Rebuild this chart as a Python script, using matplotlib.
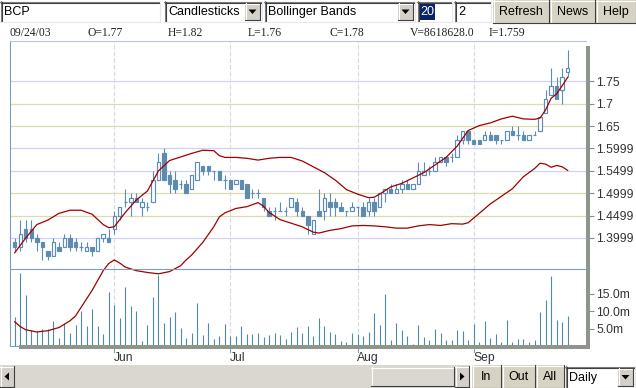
import matplotlib
matplotlib.use('Agg')
import matplotlib.pyplot as plt
from matplotlib.patches import Rectangle, Polygon
from matplotlib.transforms import blended_transform_factory
import numpy as np

plt.rcParams['font.family'] = ['Liberation Sans', 'DejaVu Sans']

# ---------------- data ----------------
opens = [1.39, 1.38, 1.42, 1.42, 1.40, 1.39, 1.37, 1.36, 1.38, 1.38,
         1.40, 1.39, 1.38, 1.37, 1.38, 1.37, 1.40, 1.40, 1.42, 1.45,
         1.48, 1.48, 1.49, 1.47, 1.47, 1.48, 1.53, 1.59, 1.54, 1.53,
         1.52, 1.52, 1.51, 1.53, 1.56, 1.56, 1.55, 1.55, 1.53, 1.53,
         1.52, 1.53, 1.52, 1.50, 1.50, 1.49, 1.46, 1.46, 1.46, 1.46,
         1.47, 1.48, 1.46, 1.45, 1.41, 1.46, 1.46, 1.48, 1.48, 1.47,
         1.46, 1.46, 1.47, 1.47, 1.46, 1.48, 1.47, 1.50, 1.51, 1.50,
         1.51, 1.52, 1.51, 1.52, 1.54, 1.55, 1.55, 1.57, 1.58, 1.58,
         1.58, 1.62, 1.64, 1.62, 1.62, 1.62, 1.63, 1.63, 1.62, 1.62,
         1.64, 1.63, 1.63, 1.62, 1.63, 1.64, 1.68, 1.72, 1.74, 1.73,
         1.77]
highs = [1.40, 1.44, 1.44, 1.44, 1.41, 1.39, 1.37, 1.40, 1.39, 1.41,
         1.41, 1.40, 1.39, 1.39, 1.38, 1.40, 1.41, 1.42, 1.46, 1.47,
         1.51, 1.50, 1.50, 1.49, 1.48, 1.55, 1.59, 1.60, 1.55, 1.55,
         1.53, 1.53, 1.54, 1.57, 1.56, 1.56, 1.55, 1.55, 1.54, 1.53,
         1.53, 1.53, 1.52, 1.51, 1.51, 1.49, 1.47, 1.47, 1.48, 1.47,
         1.49, 1.49, 1.47, 1.45, 1.44, 1.51, 1.50, 1.50, 1.49, 1.48,
         1.46, 1.48, 1.47, 1.48, 1.49, 1.49, 1.50, 1.51, 1.52, 1.52,
         1.53, 1.53, 1.52, 1.57, 1.57, 1.56, 1.58, 1.58, 1.58, 1.59,
         1.63, 1.64, 1.64, 1.62, 1.62, 1.64, 1.64, 1.63, 1.62, 1.64,
         1.65, 1.65, 1.64, 1.63, 1.64, 1.67, 1.73, 1.78, 1.76, 1.78,
         1.82]
lows = [1.37, 1.37, 1.39, 1.39, 1.37, 1.35, 1.35, 1.36, 1.37, 1.38,
        1.37, 1.37, 1.37, 1.37, 1.36, 1.37, 1.39, 1.39, 1.41, 1.44,
        1.47, 1.45, 1.48, 1.45, 1.46, 1.48, 1.53, 1.53, 1.50, 1.50,
        1.51, 1.50, 1.51, 1.53, 1.54, 1.54, 1.53, 1.53, 1.51, 1.51,
        1.52, 1.51, 1.49, 1.49, 1.49, 1.46, 1.45, 1.44, 1.46, 1.45,
        1.47, 1.45, 1.45, 1.41, 1.41, 1.45, 1.44, 1.45, 1.45, 1.46,
        1.45, 1.46, 1.45, 1.45, 1.45, 1.45, 1.47, 1.48, 1.50, 1.50,
        1.50, 1.51, 1.51, 1.52, 1.54, 1.54, 1.55, 1.57, 1.56, 1.57,
        1.58, 1.61, 1.61, 1.61, 1.61, 1.62, 1.62, 1.61, 1.61, 1.62,
        1.63, 1.62, 1.62, 1.62, 1.63, 1.64, 1.68, 1.72, 1.71, 1.70,
        1.76]
closes = [1.38, 1.41, 1.40, 1.40, 1.39, 1.38, 1.36, 1.39, 1.37, 1.40,
          1.38, 1.38, 1.38, 1.38, 1.37, 1.40, 1.41, 1.39, 1.45, 1.47,
          1.48, 1.49, 1.48, 1.48, 1.47, 1.53, 1.57, 1.53, 1.52, 1.51,
          1.52, 1.50, 1.54, 1.57, 1.55, 1.55, 1.55, 1.53, 1.53, 1.51,
          1.53, 1.51, 1.49, 1.50, 1.50, 1.47, 1.45, 1.46, 1.46, 1.46,
          1.49, 1.46, 1.45, 1.43, 1.44, 1.45, 1.49, 1.47, 1.47, 1.46,
          1.46, 1.47, 1.47, 1.45, 1.48, 1.46, 1.50, 1.51, 1.50, 1.51,
          1.52, 1.51, 1.52, 1.55, 1.55, 1.55, 1.57, 1.58, 1.57, 1.58,
          1.62, 1.64, 1.62, 1.61, 1.61, 1.63, 1.62, 1.62, 1.62, 1.64,
          1.63, 1.63, 1.62, 1.63, 1.63, 1.67, 1.71, 1.74, 1.71, 1.76,
          1.78]
volume_m = [8.4, 20.9, 14.7, 4.6, 4.3, 5.0, 4.8, 7.2, 2.2, 6.6,
            3.7, 6.0, 10.2, 5.7, 10.7, 5.7, 3.4, 15.6, 11.8, 8.1,
            17.1, 11.5, 10.1, 1.4, 6.0, 14.2, 20.6, 6.6, 8.3, 9.8,
            5.1, 2.2, 3.7, 12.4, 3.1, 6.6, 1.9, 2.8, 6.3, 2.8,
            2.8, 5.7, 3.4, 3.4, 3.7, 2.5, 3.1, 3.7, 3.1, 1.9,
            4.0, 5.4, 3.7, 5.7, 2.8, 8.1, 5.7, 4.0, 3.4, 1.4,
            1.1, 3.7, 3.4, 2.8, 4.0, 9.5, 6.0, 15.0, 1.6, 6.6,
            4.6, 2.8, 0.5, 6.0, 2.5, 1.6, 4.8, 3.7, 1.6, 1.6,
            4.6, 4.3, 1.6, 6.3, 1.1, 7.2, 2.2, 3.4, 1.1, 7.5,
            1.1, 1.9, 1.9, 1.1, 1.6, 9.8, 13.3, 20.3, 7.5, 6.9,
            8.6]
upper_idx = [0, 2, 4, 6, 8, 10, 12, 14, 16, 17, 18, 20, 22, 24, 26, 28, 30,
             32, 34, 36, 37, 38, 40, 42, 44, 46, 48, 50, 52, 54, 56, 58, 60,
             62, 64, 65, 66, 68, 70, 72, 74, 76, 78, 80, 82, 84, 86, 88, 90,
             92, 94, 95, 96, 97, 98, 99, 100]
upper_val = [1.367, 1.400, 1.430, 1.440, 1.455, 1.462, 1.462, 1.453, 1.430,
             1.423, 1.425, 1.457, 1.485, 1.505, 1.550, 1.573, 1.581, 1.589,
             1.596, 1.595, 1.584, 1.580, 1.580, 1.578, 1.574, 1.578, 1.580,
             1.580, 1.572, 1.559, 1.546, 1.529, 1.508, 1.498, 1.490, 1.491,
             1.498, 1.514, 1.522, 1.534, 1.546, 1.563, 1.580, 1.605, 1.640,
             1.651, 1.657, 1.666, 1.672, 1.666, 1.665, 1.668, 1.686, 1.712,
             1.722, 1.740, 1.759]
lower_idx = [0, 1, 2, 4, 6, 8, 10, 11, 12, 14, 16, 17, 18, 19, 20, 22, 24,
             26, 28, 30, 31, 32, 34, 36, 37, 38, 40, 42, 44, 45, 46, 48, 50,
             52, 54, 55, 57, 59, 61, 63, 65, 67, 69, 71, 73, 75, 77, 79, 81,
             82, 84, 86, 88, 90, 92, 94, 95, 96, 97, 98, 99, 100]
lower_val = [1.213, 1.202, 1.195, 1.190, 1.193, 1.200, 1.215, 1.226, 1.245,
             1.283, 1.327, 1.343, 1.351, 1.344, 1.335, 1.327, 1.323, 1.320,
             1.325, 1.338, 1.351, 1.362, 1.390, 1.425, 1.447, 1.456, 1.466,
             1.470, 1.479, 1.471, 1.457, 1.441, 1.433, 1.425, 1.413, 1.411,
             1.417, 1.421, 1.427, 1.428, 1.427, 1.425, 1.422, 1.422, 1.427,
             1.430, 1.428, 1.432, 1.431, 1.434, 1.455, 1.476, 1.493, 1.510,
             1.537, 1.555, 1.567, 1.565, 1.558, 1.562, 1.559, 1.551]
month_idx = [18, 39, 62, 83]
month_labels = ['Jun', 'Jul', 'Aug', 'Sep']
price_ticks = [1.75, 1.70, 1.65, 1.60, 1.55, 1.50, 1.45, 1.40]
price_tick_labels = ['1.75', '1.7', '1.65', '1.5999', '1.5499',
                     '1.4999', '1.4499', '1.3999']
vol_ticks = [5, 10, 15]
vol_tick_labels = ['5.0m', '10.0m', '15.0m']
info_texts = ['09/24/03', 'O=1.77', 'H=1.82', 'L=1.76', 'C=1.78',
              'V=8618628.0', 'I=1.759']

# ---------------- figure layout (pixels) ----------------
W, H = 636, 388
fig = plt.figure(figsize=(W / 100, H / 100), dpi=100)
fig.patch.set_facecolor('white')

L_PX, R_PX = 10, 586
PT, PB, VB = 41, 269.3, 346


def fy(py):
    return 1 - py / H


axv = fig.add_axes([L_PX / W, fy(VB), (R_PX - L_PX) / W, (VB - PB) / H])
axp = fig.add_axes([L_PX / W, fy(PB), (R_PX - L_PX) / W, (PB - PT) / H])
axv.set_zorder(1)
axp.set_zorder(2)
for a in (axv, axp):
    a.set_facecolor('none')
    for s in a.spines.values():
        s.set_visible(False)
    a.set_xticks([])

xlo, xhi = -0.85, 103.31
axp.set_xlim(xlo, xhi)
axv.set_xlim(xlo, xhi)
axp.set_ylim(1.33007, 1.84002)
axv.set_ylim(0, (VB - PB) / 3.47)

EDGE = '#5b8db6'
FILL = '#6289a8'
RED = '#a00000'
VOLC = '#4f8aa6'
GRID_A = '#d2d2f2'
GRID_B = '#dcdcae'

# grid lines
grid_cols = [GRID_A, GRID_B, GRID_B, GRID_A, GRID_A, GRID_B, GRID_B, GRID_A]
for p, c in zip(price_ticks, grid_cols):
    axp.axhline(p, color=c, lw=0.9, zorder=0)
for m in month_idx:
    axp.axvline(m, color='#d6d6ec', lw=0.8, ls=(0, (4, 2)), zorder=0)
    axv.axvline(m, color='#d6d6ec', lw=0.8, ls=(0, (4, 2)), zorder=0)

# candles
O = np.array(opens); Hh = np.array(highs); Lw = np.array(lows); C = np.array(closes)
x = np.arange(len(O))
up = C >= O
lo = np.minimum(O, C)
ht = np.abs(C - O)
axp.vlines(x, Lw, Hh, color=EDGE, lw=0.8, zorder=2)
axp.bar(x[up], ht[up], bottom=lo[up], width=0.62, facecolor='white',
        edgecolor=EDGE, linewidth=0.85, zorder=3)
axp.bar(x[~up], ht[~up], bottom=lo[~up], width=0.62, facecolor=FILL,
        edgecolor=EDGE, linewidth=0.85, zorder=3)

# bollinger bands
axp.plot(upper_idx, upper_val, color=RED, lw=0.9, zorder=4)
axp.plot(lower_idx, lower_val, color=RED, lw=0.9, zorder=4, clip_on=False)

# volume
axv.vlines(x, 0, volume_m, color=VOLC, lw=0.8, zorder=2)

# right axis ticks
tick_kw = dict(axis='y', direction='out', length=5.8, width=0.8,
               color='#6f8fb5', pad=1.6, labelsize=8.7, labelcolor='#333333')
axp.yaxis.tick_right()
axp.set_yticks(price_ticks)
axp.set_yticklabels(price_tick_labels)
axp.tick_params(**tick_kw)
axv.yaxis.tick_right()
axv.set_yticks(vol_ticks)
axv.set_yticklabels(vol_tick_labels)
axv.tick_params(**tick_kw)

# month labels and ticks
bt = blended_transform_factory(axv.transData, axv.transAxes)
for m, lab in zip(month_idx, month_labels):
    axv.plot([m, m], [-0.03, -0.075], transform=bt, color='#7f9db9', lw=0.8,
             clip_on=False)
    axv.text(m - 0.1, -0.155, lab, transform=bt, ha='left', va='center',
             fontsize=8.7, color='#333333')

# ---------------- overlay: frame, toolbar, scrollbar ----------------
ov = fig.add_axes([0, 0, 1, 1])
ov.set_zorder(3)
ov.set_facecolor('none')
ov.set_xlim(0, W)
ov.set_ylim(H, 0)
ov.axis('off')

FRAME = '#7f9db9'
ov.plot([9.5, 9.5], [40.5, 346], color=FRAME, lw=0.8)
ov.plot([9.5, 586], [40.5, 40.5], color='#b8c6d8', lw=0.8)
ov.plot([9.5, 586], [269.3, 269.3], color=FRAME, lw=0.8)
ov.plot([9.5, 19], [345.5, 345.5], color=FRAME, lw=0.8)
ov.add_patch(Rectangle((19, 345), 571, 3.5, fc='#8e968c', ec='none'))
ov.add_patch(Rectangle((586, 46), 4, 302.5, fc='#8e968c', ec='none'))

BTN = '#d7d3c4'
GRAY = '#d4d0c8'


def raised(x0, y0, x1, y1, fc=BTN):
    ov.add_patch(Rectangle((x0, y0), x1 - x0, y1 - y0, fc=fc, ec='none'))
    ov.plot([x0, x1], [y0 + 0.5, y0 + 0.5], color='white', lw=0.8)
    ov.plot([x0 + 0.5, x0 + 0.5], [y0, y1], color='white', lw=0.8)
    ov.plot([x0, x1], [y1 - 0.5, y1 - 0.5], color='#404040', lw=0.8)
    ov.plot([x1 - 0.5, x1 - 0.5], [y0, y1], color='#404040', lw=0.8)


def sunken(x0, y0, x1, y1, fc='white'):
    ov.add_patch(Rectangle((x0, y0), x1 - x0, y1 - y0, fc=fc, ec='none'))
    ov.plot([x0, x1], [y0 + 0.5, y0 + 0.5], color='#808080', lw=0.8)
    ov.plot([x0 + 0.5, x0 + 0.5], [y0, y1], color='#808080', lw=0.8)
    ov.plot([x0 + 1, x1 - 1], [y0 + 1.5, y0 + 1.5], color='#404040', lw=0.8)
    ov.plot([x0 + 1.5, x0 + 1.5], [y0 + 1, y1 - 1], color='#404040', lw=0.8)
    ov.plot([x0, x1], [y1 - 0.5, y1 - 0.5], color='#e8e8e8', lw=0.8)
    ov.plot([x1 - 0.5, x1 - 0.5], [y0, y1], color='#e8e8e8', lw=0.8)


def arrow_btn(x0, y0, x1, y1, direction='down'):
    raised(x0, y0, x1, y1, fc=GRAY)
    cx, cy = (x0 + x1) / 2, (y0 + y1) / 2
    if direction == 'down':
        pts = [(cx - 4, cy - 2), (cx + 4, cy - 2), (cx, cy + 2.5)]
    elif direction == 'left':
        pts = [(cx + 2, cy - 4), (cx + 2, cy + 4), (cx - 2.5, cy)]
    else:
        pts = [(cx - 2, cy - 4), (cx - 2, cy + 4), (cx + 2.5, cy)]
    ov.add_patch(Polygon(pts, closed=True, fc='black', ec='none'))


TXT = dict(fontsize=9, color='black', va='center')
# toolbar
sunken(0, 1, 160, 22)
ov.text(4, 11.8, 'BCP', **TXT)
sunken(164, 1, 262, 22)
ov.text(168, 11.8, 'Candlesticks', **TXT)
arrow_btn(245, 3, 260, 20)
sunken(264, 1, 415, 22)
ov.text(268, 11.8, 'Bollinger Bands', **TXT)
arrow_btn(398, 3, 413, 20)
sunken(417, 1, 452, 22)
ov.add_patch(Rectangle((419, 3.5), 15.5, 16, fc='#0a246a', ec='none'))
ov.text(420, 11.8, '20', fontsize=9, color='white', va='center')
sunken(454, 1, 491, 22)
ov.text(458, 11.8, '2', **TXT)
for (x0, x1, lab) in [(493, 549, 'Refresh'), (550, 595, 'News'), (596, 636, 'Help')]:
    raised(x0, 0, x1, 23)
    ov.text((x0 + x1) / 2, 11.8, lab, ha='center', fontsize=9, color='black',
            va='center')

# info line
info_x = [9, 88, 168, 248, 329, 410, 489]
for tx, t in zip(info_x, info_texts):
    ov.text(tx, 32.5, t, fontsize=8.4, color='#222222', va='center',
            family=['Liberation Serif', 'DejaVu Serif'])

# scrollbar
ov.add_patch(Rectangle((0, 365), 470, 23, fc='#d9d7d0', ec='none'))
arrow_btn(0, 366, 14, 387, 'left')
raised(371, 367, 454, 386, fc='#d9d7d0')
arrow_btn(455, 366, 469, 387, 'right')
for (x0, x1, lab) in [(472, 501, 'In'), (502, 535, 'Out'), (536, 564, 'All')]:
    raised(x0, 365, x1, 388)
    ov.text((x0 + x1) / 2, 377, lab, ha='center', fontsize=9, color='black',
            va='center')
sunken(565, 366, 635, 388)
ov.text(569, 377.5, 'Daily', **TXT)
arrow_btn(618, 368, 633, 386)

fig.savefig('out.png', dpi=100, facecolor='white')
